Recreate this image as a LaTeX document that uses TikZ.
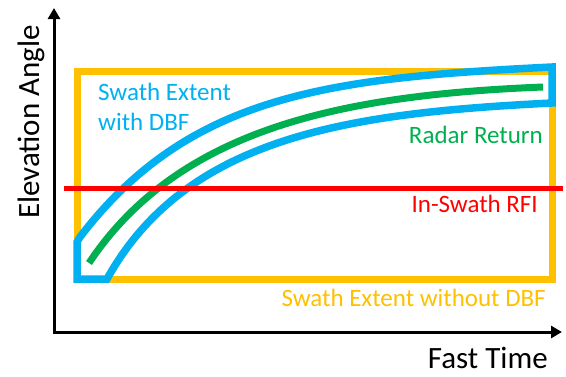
\documentclass[tikz,border=0pt]{standalone}
\usepackage{fontspec}
\setmainfont{Carlito}
\usepackage{tikz}
\usetikzlibrary{arrows.meta}

\definecolor{swgold}{HTML}{FFC000}
\definecolor{swblue}{HTML}{00B0F0}
\definecolor{swgreen}{HTML}{00B050}
\definecolor{swred}{HTML}{FF0000}

\begin{document}
\begin{tikzpicture}[x=1pt, y=-1pt, >={Triangle[length=11pt, width=12pt]}]
			\tikzstyle{axis} = [line width=3pt, <->]
			\tikzstyle{nodbf} = [draw=swgold, line width=7pt]
			\tikzstyle{withdbf} = [draw=swblue, line width=7.5pt, line join=miter]
			\tikzstyle{echo} = [draw=swgreen, line width=7pt]
			\tikzstyle{rfi} = [draw=swred, line width=5pt]
			\tikzstyle{lbl} = [inner sep=0pt, font=\fontsize{25}{30}\selectfont]
			\tikzstyle{axlbl} = [inner sep=0pt, font=\fontsize{31}{36}\selectfont]

			\useasboundingbox (0,0) rectangle (566,376);

			% axes
			\coordinate (orig) at (54,332);
			\coordinate (ytop) at (54,8);
			\coordinate (xend) at (562,332);
			\draw[axis] (ytop) -- (orig) -- (xend);

			% swath without DBF
			\draw[nodbf] (77,71) rectangle (552,279);

			% swath with DBF
			\draw[withdbf] (77,279) -- (77,242) -- (80,237)
				.. controls (190,93) and (332,78) .. (552,67)
				-- (552,103)
				.. controls (352,113) and (187,135) .. (107,279) -- cycle;

			% radar return
			\draw[echo] (89,263) .. controls (179,128) and (343,95) .. (543,87);

			% in-swath RFI
			\coordinate (rfia) at (64,188);
			\coordinate (rfib) at (563,188);
			\draw[rfi] (rfia) -- (rfib);

			% labels
			\node[lbl, text=swblue, anchor=north west, align=left] (dbf) at (98,83) {Swath Extent\\with DBF};
			\node[lbl, text=swgreen, anchor=base east] (ret) at (543,143) {Radar Return};
			\node[lbl, text=swred, anchor=base east] (irfi) at (538,212) {In-Swath RFI};
			\node[lbl, text=swgold, anchor=base east] (ndbf) at (546,306) {Swath Extent without DBF};
			\node[axlbl, anchor=base east] (xlbl) at (548,368) {Fast Time};
			\node[axlbl, anchor=base, rotate=90] (ylbl) at (39,122) {Elevation Angle};
\end{tikzpicture}
\end{document}
